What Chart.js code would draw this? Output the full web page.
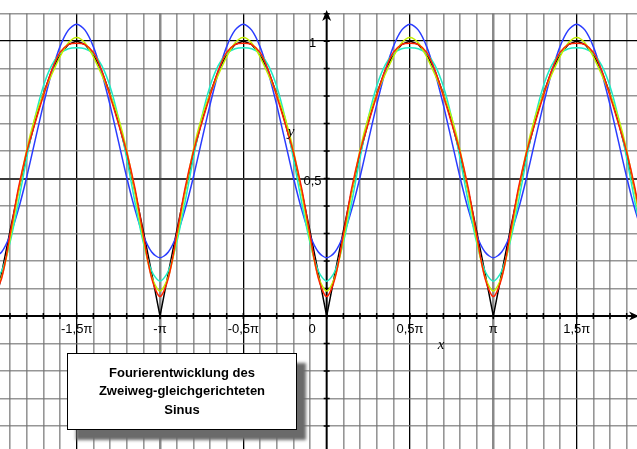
<!DOCTYPE html>
<html>
<head>
<meta charset="utf-8">
<script src="https://cdn.jsdelivr.net/npm/chart.js@4/dist/chart.umd.min.js"></script>
<style>
  body { margin: 0; background: #fff; }
  #wrap { position: relative; width: 637px; height: 449px; }
  #box {
    position: absolute; left: 67px; top: 353px; width: 228px; height: 75px;
    background: #fff; border: 1px solid #000;
    box-shadow: 9px 10px 3px #6a6a6a;
    font: bold 13px "Liberation Sans", Arial, Helvetica, sans-serif;
    line-height: 18.5px; text-align: center;
    display: flex; align-items: center; justify-content: center;
  }
</style>
</head>
<body>
<div id="wrap">
  <canvas id="c" width="637" height="449"></canvas>
  <div id="box"><div>Fourierentwicklung des<br>Zweiweg-gleichgerichteten<br>Sinus</div></div>
</div>
<script>
// x positions in units of pi
const T = [-2,-1.95,-1.9,-1.85,-1.8,-1.75,-1.7,-1.65,-1.6,-1.55,-1.5,-1.45,-1.4,-1.35,-1.3,-1.25,-1.2,-1.15,-1.1,-1.05,
  -1,-0.95,-0.9,-0.85,-0.8,-0.75,-0.7,-0.65,-0.6,-0.55,-0.5,-0.45,-0.4,-0.35,-0.3,-0.25,-0.2,-0.15,-0.1,-0.05,
  0,0.05,0.1,0.15,0.2,0.25,0.3,0.35,0.4,0.45,0.5,0.55,0.6,0.65,0.7,0.75,0.8,0.85,0.9,0.95,
  1,1.05,1.1,1.15,1.2,1.25,1.3,1.35,1.4,1.45,1.5,1.55,1.6,1.65,1.7,1.75,1.8,1.85,1.9];

// |sin x|
const exact = [0,0.156,0.309,0.454,0.588,0.707,0.809,0.891,0.951,0.988,1,0.988,0.951,0.891,0.809,0.707,0.588,0.454,0.309,0.156,
  0,0.156,0.309,0.454,0.588,0.707,0.809,0.891,0.951,0.988,1,0.988,0.951,0.891,0.809,0.707,0.588,0.454,0.309,0.156,
  0,0.156,0.309,0.454,0.588,0.707,0.809,0.891,0.951,0.988,1,0.988,0.951,0.891,0.809,0.707,0.588,0.454,0.309,0.156,
  0,0.156,0.309,0.454,0.588,0.707,0.809,0.891,0.951,0.988,1,0.988,0.951,0.891,0.809,0.707,0.588,0.454,0.309];

// partial sums, 1 to 4 terms
const s1 = [0.212,0.233,0.293,0.387,0.505,0.637,0.768,0.886,0.98,1.04,1.061,1.04,0.98,0.886,0.768,0.637,0.505,0.387,0.293,0.233,
  0.212,0.233,0.293,0.387,0.505,0.637,0.768,0.886,0.98,1.04,1.061,1.04,0.98,0.886,0.768,0.637,0.505,0.387,0.293,0.233,
  0.212,0.233,0.293,0.387,0.505,0.637,0.768,0.886,0.98,1.04,1.061,1.04,0.98,0.886,0.768,0.637,0.505,0.387,0.293,0.233,
  0.212,0.233,0.293,0.387,0.505,0.637,0.768,0.886,0.98,1.04,1.061,1.04,0.98,0.886,0.768,0.637,0.505,0.387,0.293];
const s2 = [0.127,0.164,0.267,0.413,0.574,0.722,0.836,0.912,0.954,0.972,0.976,0.972,0.954,0.912,0.836,0.722,0.574,0.413,0.267,0.164,
  0.127,0.164,0.267,0.413,0.574,0.722,0.836,0.912,0.954,0.972,0.976,0.972,0.954,0.912,0.836,0.722,0.574,0.413,0.267,0.164,
  0.127,0.164,0.267,0.413,0.574,0.722,0.836,0.912,0.954,0.972,0.976,0.972,0.954,0.912,0.836,0.722,0.574,0.413,0.267,0.164,
  0.127,0.164,0.267,0.413,0.574,0.722,0.836,0.912,0.954,0.972,0.976,0.972,0.954,0.912,0.836,0.722,0.574,0.413,0.267];
const s3 = [0.091,0.143,0.278,0.448,0.604,0.722,0.807,0.878,0.943,0.993,1.013,0.993,0.943,0.878,0.807,0.722,0.604,0.448,0.278,0.143,
  0.091,0.143,0.278,0.448,0.604,0.722,0.807,0.878,0.943,0.993,1.013,0.993,0.943,0.878,0.807,0.722,0.604,0.448,0.278,0.143,
  0.091,0.143,0.278,0.448,0.604,0.722,0.807,0.878,0.943,0.993,1.013,0.993,0.943,0.878,0.807,0.722,0.604,0.448,0.278,0.143,
  0.091,0.143,0.278,0.448,0.604,0.722,0.807,0.878,0.943,0.993,1.013,0.993,0.943,0.878,0.807,0.722,0.604,0.448,0.278];
const s4 = [0.071,0.137,0.295,0.464,0.597,0.701,0.801,0.894,0.959,0.987,0.992,0.987,0.959,0.894,0.801,0.701,0.597,0.464,0.295,0.137,
  0.071,0.137,0.295,0.464,0.597,0.701,0.801,0.894,0.959,0.987,0.992,0.987,0.959,0.894,0.801,0.701,0.597,0.464,0.295,0.137,
  0.071,0.137,0.295,0.464,0.597,0.701,0.801,0.894,0.959,0.987,0.992,0.987,0.959,0.894,0.801,0.701,0.597,0.464,0.295,0.137,
  0.071,0.137,0.295,0.464,0.597,0.701,0.801,0.894,0.959,0.987,0.992,0.987,0.959,0.894,0.801,0.701,0.597,0.464,0.295];

const xLabels = [[-1.5, '-1,5π'], [-1, '-π'], [-0.5, '-0,5π'], [0.5, '0,5π'], [1, 'π'], [1.5, '1,5π']];
const yLabels = [[1, '1'], [0.5, '0,5']];

const pts = arr => T.map((t, i) => ({ x: t, y: arr[i] }));
const minor = 'rgba(115,115,115,0.75)';

// axes, arrows and tick labels
const axesPlugin = {
  id: 'axes',
  beforeDatasetsDraw(chart) {
    const { ctx, scales: { x, y } } = chart;
    const x0 = x.getPixelForValue(0), y0 = y.getPixelForValue(0);
    ctx.save();
    ctx.strokeStyle = '#000';
    ctx.fillStyle = '#000';
    ctx.lineWidth = 2;
    ctx.beginPath();
    ctx.moveTo(0, y0); ctx.lineTo(chart.width, y0);
    ctx.moveTo(x0, chart.height); ctx.lineTo(x0, 17);
    ctx.stroke();
    ctx.lineWidth = 1.5;
    ctx.beginPath();
    for (let i = -19; i <= 18; i++) {
      const px = x.getPixelForValue(i / 10);
      ctx.moveTo(px, y0 - 3); ctx.lineTo(px, y0 + 3);
    }
    for (let j = -4; j <= 11; j++) {
      const py = y.getPixelForValue(j / 10);
      ctx.moveTo(x0 - 3, py); ctx.lineTo(x0 + 3, py);
    }
    ctx.stroke();
    // arrow heads
    ctx.beginPath();
    ctx.moveTo(x0, 10); ctx.lineTo(x0 - 4.5, 21); ctx.lineTo(x0, 18); ctx.lineTo(x0 + 4.5, 21);
    ctx.closePath(); ctx.fill();
    ctx.beginPath();
    ctx.moveTo(chart.width + 2, y0); ctx.lineTo(chart.width - 8, y0 - 4.5); ctx.lineTo(chart.width - 5, y0);
    ctx.lineTo(chart.width - 8, y0 + 4.5); ctx.closePath(); ctx.fill();
    ctx.restore();
  },
  afterDraw(chart) {
    const { ctx, scales: { x, y } } = chart;
    ctx.save();
    ctx.fillStyle = '#000';
    ctx.font = '13px "Liberation Sans", Arial, sans-serif';
    ctx.textAlign = 'center';
    ctx.textBaseline = 'middle';
    xLabels.forEach(([v, s]) => ctx.fillText(s, x.getPixelForValue(v), 329));
    ctx.fillText('0', 312, 329);
    yLabels.forEach(([v, s]) => ctx.fillText(s, 312.5, y.getPixelForValue(v) + 2.5));
    ctx.font = 'italic 15px "Liberation Serif", "Times New Roman", serif';
    ctx.fillText('y', 291, 132);
    ctx.fillText('x', 441, 345);
    ctx.restore();
  }
};

new Chart(document.getElementById('c'), {
  type: 'line',
  data: {
    datasets: [
      { data: pts(s4), borderColor: '#ff2200', order: 1, tension: 0.3 },
      { data: pts(s3), borderColor: '#c4f000', order: 2, tension: 0.3 },
      { data: pts(s2), borderColor: '#1fecc4', order: 3, tension: 0.3 },
      { data: pts(s1), borderColor: '#2a3cff', order: 4, tension: 0.3 },
      { data: pts(exact), borderColor: '#000000', order: 5, tension: 0 }
    ]
  },
  options: {
    responsive: false,
    animation: false,
    devicePixelRatio: 1,
    layout: { padding: { top: 13.5, left: 0, right: 0, bottom: 0 } },
    elements: { point: { radius: 0 }, line: { borderWidth: 1.5 } },
    plugins: { legend: { display: false }, tooltip: { enabled: false } },
    scales: {
      x: {
        type: 'linear', min: -1.96, max: 1.862,
        ticks: { display: false },
        border: { display: false },
        afterFit: s => { s.height = 0; },
        afterBuildTicks: s => {
          const t = [];
          for (let i = -19; i <= 18; i++) t.push({ value: i / 10 });
          s.ticks = t;
        },
        grid: {
          drawTicks: false,
          color: c => {
            const i = Math.round(c.tick.value * 10);
            if (i === 0) return 'rgba(0,0,0,0)';
            if (i % 10 === 0) return 'rgba(125,125,125,0.9)';
            if (i % 5 === 0) return '#000';
            return minor;
          },
          lineWidth: c => {
            const i = Math.round(c.tick.value * 10);
            if (i % 10 === 0) return 2.5;
            if (i % 5 === 0) return 1.3;
            return 1.6;
          }
        }
      },
      y: {
        min: -0.4836, max: 1.1005,
        ticks: { display: false },
        border: { display: false },
        afterFit: s => { s.width = 0; },
        afterBuildTicks: s => {
          const t = [];
          for (let j = -4; j <= 11; j++) t.push({ value: j / 10 });
          s.ticks = t;
        },
        grid: {
          drawTicks: false,
          color: c => {
            const j = Math.round(c.tick.value * 10);
            if (j === 0) return 'rgba(0,0,0,0)';
            if (j === 10) return '#000';
            if (j === 5) return '#3a3a3a';
            return minor;
          },
          lineWidth: c => {
            const j = Math.round(c.tick.value * 10);
            if (j === 10) return 1.3;
            if (j === 5) return 2;
            return 1.6;
          }
        }
      }
    }
  },
  plugins: [axesPlugin]
});
</script>
</body>
</html>
